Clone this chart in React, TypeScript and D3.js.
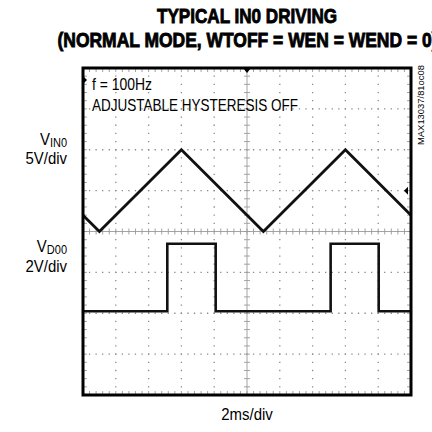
import React from "react";
import * as d3 from "d3";

// ---- data ----
const timeDomainMs = [0, 20]; // 2ms/div, 10 divisions
const xDivisions = 10;
const yDivisions = 8;

// VIN0 triangle (5V/div) : vertex times (ms) and volts
const vin0Times = [0, 1, 6, 11, 16, 20];
const vin0Volts = [2, 0, 10, 0, 10, 2];
const vin0Domain = [-20, 20];

// VD00 square (2V/div): rising / falling edge times (ms)
const vd00Rise = [5.14, 15.1];
const vd00Fall = [8.09, 18.03];
const vd00Low = 0.1;
const vd00High = 3.4;
const vd00Domain = [-4, 12];

const titleLines = ["TYPICAL IN0 DRIVING", "(NORMAL MODE, WTOFF = WEN = WEND = 0)"];
const annotations = ["f = 100Hz", "ADJUSTABLE HYSTERESIS OFF"];
const xLabel = "2ms/div";
const figId = "MAX13037/81oc08";

const L = 83, R = 411, T = 68, B = 395;

export default function App() {
  const x = d3.scaleLinear().domain(timeDomainMs).range([L, R]);
  const yIn = d3.scaleLinear().domain(vin0Domain).range([B, T]);
  const yD = d3.scaleLinear().domain(vd00Domain).range([B, T]);
  const gx = d3.scaleLinear().domain([0, xDivisions]).range([L, R]);
  const gy = d3.scaleLinear().domain([0, yDivisions]).range([T, B]);

  const line = d3.line<[number, number]>().x((d) => d[0]).y((d) => d[1]);

  const triPts: [number, number][] = vin0Times.map((t, i) => [x(t), yIn(vin0Volts[i])]);

  const sq: [number, number][] = [];
  sq.push([x(timeDomainMs[0]), yD(vd00Low)]);
  vd00Rise.forEach((r, i) => {
    sq.push([x(r), yD(vd00Low)]);
    sq.push([x(r), yD(vd00High)]);
    sq.push([x(vd00Fall[i]), yD(vd00High)]);
    sq.push([x(vd00Fall[i]), yD(vd00Low)]);
  });
  sq.push([x(timeDomainMs[1]), yD(vd00Low)]);

  const pitchX = (gx(1) - gx(0)) / 5;
  const pitchY = (gy(1) - gy(0)) / 5;
  const dotW = 1.3;

  const vLines = d3.range(1, xDivisions).filter((i) => i !== xDivisions / 2);
  const hLines = d3.range(1, yDivisions).filter((j) => j !== yDivisions / 2);
  const subX = d3.range(1, xDivisions * 5);
  const subY = d3.range(1, yDivisions * 5);
  const cx = gx(xDivisions / 2);
  const cy = gy(yDivisions / 2);

  const sans = "'Liberation Sans', Arial, Helvetica, sans-serif";
  const sx = 0.88;

  return (
    <svg width={432} height={432} style={{ position: "absolute", left: 0, top: 0, background: "#fff" }}>
      <rect x={0} y={0} width={432} height={432} fill="#fff" />
      {/* title */}
      <text x={247} y={23} textAnchor="middle" fontFamily={sans} fontWeight={700} fontSize={21}
        stroke="#000" strokeWidth={0.9}
        textLength={180} lengthAdjust="spacingAndGlyphs">{titleLines[0]}</text>
      <text x={247.5} y={47} textAnchor="middle" fontFamily={sans} fontWeight={700} fontSize={21}
        stroke="#000" strokeWidth={0.9}
        textLength={380} lengthAdjust="spacingAndGlyphs">{titleLines[1]}</text>

      {/* grid dotted lines */}
      <g stroke="#8a8a8a" strokeWidth={dotW}>
        {vLines.map((i) => (
          <line key={"v" + i} x1={gx(i)} x2={gx(i)} y1={T} y2={B}
            strokeDasharray={`${dotW} ${pitchY - dotW}`} strokeDashoffset={dotW / 2} />
        ))}
        {hLines.map((j) => (
          <line key={"h" + j} x1={L} x2={R} y1={gy(j)} y2={gy(j)}
            strokeDasharray={`${dotW} ${pitchX - dotW}`} strokeDashoffset={dotW / 2} />
        ))}
      </g>
      {/* center axes with ticks */}
      <g stroke="#9a9a9a" strokeWidth={0.9}>
        <line x1={L} x2={R} y1={cy} y2={cy} />
        <line x1={cx} x2={cx} y1={T} y2={B} />
        {subX.map((k) => (
          <line key={"cxt" + k} x1={L + k * pitchX} x2={L + k * pitchX} y1={cy - 3} y2={cy + 3} />
        ))}
        {subY.map((k) => (
          <line key={"cyt" + k} x1={cx - 3} x2={cx + 3} y1={T + k * pitchY} y2={T + k * pitchY} />
        ))}
        {subX.map((k) => (
          <g key={"bx" + k}>
            <line x1={L + k * pitchX} x2={L + k * pitchX} y1={T} y2={T + 4} />
            <line x1={L + k * pitchX} x2={L + k * pitchX} y1={B} y2={B - 4} />
          </g>
        ))}
        {subY.map((k) => (
          <g key={"by" + k}>
            <line x1={L} x2={L + 4} y1={T + k * pitchY} y2={T + k * pitchY} />
            <line x1={R} x2={R - 4} y1={T + k * pitchY} y2={T + k * pitchY} />
          </g>
        ))}
      </g>

      {/* traces */}
      <path d={line(triPts) || ""} fill="none" stroke="#111" strokeWidth={2.8} strokeLinejoin="miter" />
      <path d={line(sq) || ""} fill="none" stroke="#111" strokeWidth={2.6} />

      {/* frame */}
      <rect x={L} y={T} width={R - L} height={B - T} fill="none" stroke="#000" strokeWidth={3} />
      <path d={`M${cx - 4},${T} L${cx + 4},${T} L${cx},${T + 5} Z`} fill="#000" />
      <path d={`M${L + 1},${T + 9} L${L + 4},${T + 12} L${L + 1},${T + 15} Z`} fill="#000" />
      <path d={`M${R - 3},${gy(3) - 4} L${R - 3},${gy(3) + 4} L${R - 7},${gy(3)} Z`} fill="#000" />

      {/* annotations */}
      <text x={92} y={90} fontFamily={sans} fontSize={16.5} textLength={60} lengthAdjust="spacingAndGlyphs">{annotations[0]}</text>
      <text x={92} y={111} fontFamily={sans} fontSize={16.5} textLength={206} lengthAdjust="spacingAndGlyphs">{annotations[1]}</text>

      {/* channel labels */}
      <g transform={`translate(67,0) scale(${sx},1)`}>
        <text x={0} y={145} textAnchor="end" fontFamily={sans} fontSize={17}>
          V<tspan fontSize={12.5} dy={2.5}>IN0</tspan>
        </text>
        <text x={0} y={164} textAnchor="end" fontFamily={sans} fontSize={17}>5V/div</text>
        <text x={0} y={252} textAnchor="end" fontFamily={sans} fontSize={17}>
          V<tspan fontSize={12.5} dy={2.5}>D00</tspan>
        </text>
        <text x={0} y={272} textAnchor="end" fontFamily={sans} fontSize={17}>2V/div</text>
      </g>

      {/* x label */}
      <g transform={`translate(247,0) scale(${sx},1)`}>
        <text x={0} y={420} textAnchor="middle" fontFamily={sans} fontSize={17}>{xLabel}</text>
      </g>

      {/* figure id */}
      <text transform="translate(424,105) rotate(-90)" textAnchor="middle" fontFamily={sans} fontSize={9.5}
        textLength={80} lengthAdjust="spacingAndGlyphs">{figId}</text>
    </svg>
  );
}
